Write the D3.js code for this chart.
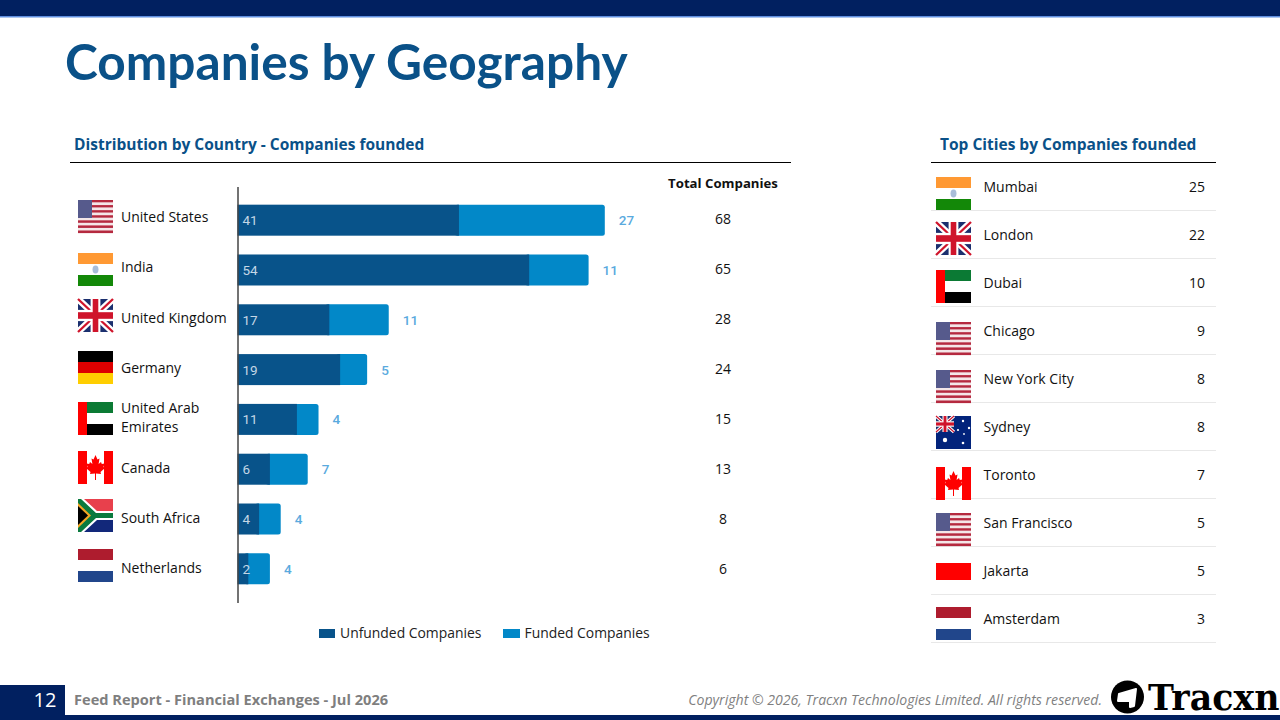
<!DOCTYPE html>
<html>
<head>
<meta charset="utf-8">
<script src="https://cdn.jsdelivr.net/npm/d3@7"></script>
<style>
html, body { margin: 0; padding: 0; background: #fff; }
svg { display: block; }
text { font-family: "Open Sans", sans-serif; }
</style>
</head>
<body>
<svg id="chart" width="1280" height="720"></svg>
<script>
const countries = ["United States", "India", "United Kingdom", "Germany", "United Arab Emirates", "Canada", "South Africa", "Netherlands"];
const countryFlags = ["us", "in", "gb", "de", "ae", "ca", "za", "nl"];
const unfunded = [41, 54, 17, 19, 11, 6, 4, 2];
const funded = [27, 11, 11, 5, 4, 7, 4, 4];
const totals = [68, 65, 28, 24, 15, 13, 8, 6];
const cities = ["Mumbai", "London", "Dubai", "Chicago", "New York City", "Sydney", "Toronto", "San Francisco", "Jakarta", "Amsterdam"];
const cityFlags = ["in", "gb", "ae", "us", "us", "au", "ca", "us", "id", "nl"];
const cityCounts = [25, 22, 10, 9, 8, 8, 7, 5, 5, 3];
const seriesNames = ["Unfunded Companies", "Funded Companies"];

const NAVY = "#012060", DARK = "#08538a", LIGHT = "#0288c8", TITLE = "#0a5188";
const svg = d3.select("#chart");

function txt(g, x, y, s, size, fill, opts) {
    opts = opts || {};
    return g.append("text").attr("x", x).attr("y", y).text(s)
        .attr("font-size", size).attr("fill", fill)
        .attr("font-weight", opts.weight || 400)
        .attr("font-style", opts.style || "normal")
        .attr("text-anchor", opts.anchor || "start")
        .style("font-family", opts.font || null);
}

// flags are drawn in a 35 x 33 box
function rect(g, x, y, w, h, fill) {
    g.append("rect").attr("x", x).attr("y", y).attr("width", w).attr("height", h).attr("fill", fill);
}
function poly(g, pts, fill) {
    g.append("polygon").attr("points", pts).attr("fill", fill);
}
function unionJack(g, w, h) {
    rect(g, 0, 0, w, h, "#1b2f6e");
    const diag = `M0,0L${w},${h}M${w},0L0,${h}`;
    g.append("path").attr("d", diag).attr("stroke", "#fff").attr("stroke-width", h * 0.2);
    g.append("path").attr("d", diag).attr("stroke", "#cf142b").attr("stroke-width", h * 0.07);
    rect(g, 0, h * 0.33, w, h * 0.34, "#fff");
    rect(g, w * 0.36, 0, w * 0.28, h, "#fff");
    rect(g, 0, h * 0.4, w, h * 0.2, "#cf142b");
    rect(g, w * 0.42, 0, w * 0.16, h, "#cf142b");
}
const LEAF = "M17.5,4 L19.5,8.5 L21.5,7.5 L20.6,13 L23,11 L23.8,13 L26.5,12.5 L25.5,16 L27,17 L22.5,21 L23,23 L18,22.4 L18,29 L17,29 L17,22.4 L12,23 L12.5,21 L8,17 L9.5,16 L8.5,12.5 L11.2,13 L12,11 L14.4,13 L13.5,7.5 L15.5,8.5 Z";
const flagDraw = {
    us(g) {
        d3.range(13).forEach(i => rect(g, 0, i * 33 / 13, 35, 33 / 13 + 0.1, i % 2 ? "#f4e6e8" : "#b5293f"));
        rect(g, 0, 0, 14, 18, "#565a8c");
    },
    in(g) {
        rect(g, 0, 0, 35, 11, "#ff9933");
        rect(g, 0, 22, 35, 11, "#138808");
        g.append("ellipse").attr("cx", 17.5).attr("cy", 16.5).attr("rx", 3).attr("ry", 4).attr("fill", "#a9bdd9");
    },
    gb(g) { unionJack(g, 35, 33); },
    de(g) {
        rect(g, 0, 0, 35, 11, "#000");
        rect(g, 0, 11, 35, 11, "#dd0000");
        rect(g, 0, 22, 35, 11, "#ffce00");
    },
    ae(g) {
        rect(g, 9, 0, 26, 11, "#0b7a34");
        rect(g, 9, 22, 26, 11, "#000");
        rect(g, 0, 0, 9, 33, "#ff0000");
    },
    ca(g) {
        rect(g, 0, 0, 9, 33, "#ff0000");
        rect(g, 26, 0, 9, 33, "#ff0000");
        g.append("path").attr("d", LEAF).attr("fill", "#ff0000");
    },
    za(g) {
        rect(g, 0, 0, 35, 12, "#e8404c");
        rect(g, 0, 21, 35, 12, "#12287a");
        poly(g, "0,0 6,0 19,12 35,12 35,21 19,21 6,33 0,33", "#fff");
        poly(g, "0,0 3,0 18,14 35,14 35,19 18,19 3,33 0,33", "#0a7a3e");
        poly(g, "0,4 13,16.5 0,29", "#f5a623");
        poly(g, "0,7 10,16.5 0,26", "#000");
    },
    nl(g) {
        rect(g, 0, 0, 35, 11, "#ae1c2e");
        rect(g, 0, 22, 35, 11, "#21468b");
    },
    au(g) {
        rect(g, 0, 0, 35, 33, "#02237b");
        unionJack(g, 18, 16);
        [[27, 5, 1.2], [33, 12, 1.2], [22, 14, 1.1], [28, 18, 0.9], [9, 24, 2.2], [27, 27, 1.3]].forEach(s =>
            g.append("circle").attr("cx", s[0]).attr("cy", s[1]).attr("r", s[2]).attr("fill", "#fff"));
    },
    id(g) {
        rect(g, 0, 0, 35, 17, "#ff0000");
    }
};
function drawFlag(code, x, y) {
    const g = svg.append("g").attr("transform", `translate(${x},${y})`);
    flagDraw[code](g);
}

// page frame
rect(svg, 0, 0, 1280, 16, NAVY);
rect(svg, 0, 16, 1280, 1.5, "#5f8fe0");
rect(svg, 0, 715, 1280, 5, NAVY);
rect(svg, 0, 685, 65, 35, NAVY);
txt(svg, 65, 80, "Companies by Geography", 49.6, TITLE, { weight: 700, font: "Lato" });

// left panel
txt(svg, 74, 150, "Distribution by Country - Companies founded", 15.5, TITLE, { weight: 700 });
svg.append("line").attr("x1", 70).attr("x2", 791).attr("y1", 162.5).attr("y2", 162.5).attr("stroke", "#000");
txt(svg, 723, 188, "Total Companies", 13.2, "#111", { weight: 700, anchor: "middle" });

const x = d3.scaleLinear().domain([0, 68]).range([237.5, 604.8]);
const y = d3.scaleBand().domain(countries).range([186.5, 602.5]).paddingInner(0.3775).paddingOuter(0.365);
const rowY = d3.scalePoint().domain(countries).range([217.4, 568]);
const flagTops = [200, 253, 299, 351, 402, 451, 499, 549];

const rows = countries.map((c, i) => ({ c, u: unfunded[i], f: funded[i], t: totals[i], flag: countryFlags[i], top: flagTops[i] }));

svg.append("g").selectAll("rect").data(rows).enter().append("rect")
    .attr("x", d => x(d.u) - 4)
    .attr("y", d => y(d.c))
    .attr("width", d => x(d.t) - x(d.u) + 4)
    .attr("height", y.bandwidth())
    .attr("rx", 2.5)
    .attr("fill", LIGHT);
svg.append("g").selectAll("rect").data(rows).enter().append("rect")
    .attr("x", x(0))
    .attr("y", d => y(d.c))
    .attr("width", d => x(d.u) - x(0))
    .attr("height", y.bandwidth())
    .attr("fill", DARK);

const yAxis = svg.append("g").attr("transform", `translate(${x(0)},0)`)
    .call(d3.axisLeft(y).tickSize(0).tickFormat(""));
yAxis.select(".domain").attr("stroke", "#444").attr("stroke-width", 1.5);

rows.forEach(d => {
    const my = y(d.c) + y.bandwidth() / 2 + 5;
    txt(svg, x(0) + 5, my, d.u, 13.5, "#c4d7e6", { font: "Roboto" });
    txt(svg, x(d.t) + 14, my, d.f, 13.5, "#5aaade", { font: "Roboto", weight: 500 });
    txt(svg, 723, rowY(d.c) + 6.2, d.t, 14, "#111", { anchor: "middle" });
    drawFlag(d.flag, 78, d.top);
    if (d.c === "United Arab Emirates") {
        txt(svg, 121, 413, "United Arab", 14, "#111");
        txt(svg, 121, 432, "Emirates", 14, "#111");
    } else {
        txt(svg, 121, rowY(d.c) + 5, d.c, 14, "#111");
    }
});

// legend
rect(svg, 319, 629, 16, 9, DARK);
txt(svg, 340, 638, seriesNames[0], 13.9, "#222");
rect(svg, 503, 629, 17, 9, LIGHT);
txt(svg, 524.5, 638, seriesNames[1], 13.9, "#222");

// right panel
txt(svg, 940, 150, "Top Cities by Companies founded", 15.5, TITLE, { weight: 700 });
svg.append("line").attr("x1", 931).attr("x2", 1216).attr("y1", 162.5).attr("y2", 162.5).attr("stroke", "#000");

const cityY = d3.scalePoint().domain(cities).range([188, 620]);
const cityFlagTops = [177, 222, 270, 322, 370, 416, 467, 513, 563, 607];
cities.forEach((c, i) => {
    const cy = cityY(c);
    svg.append("line").attr("x1", 931).attr("x2", 1216).attr("y1", cy + 22.5).attr("y2", cy + 22.5).attr("stroke", "#e8e8e8");
    drawFlag(cityFlags[i], 936, cityFlagTops[i]);
    txt(svg, 983.5, cy + 4.2, c, 14, "#111");
    txt(svg, 1205, cy + 4.2, cityCounts[i], 14, "#111", { anchor: "end" });
});

// footer
txt(svg, 45, 707, "12", 20, "#fff", { anchor: "middle" });
txt(svg, 74, 705, "Feed Report - Financial Exchanges - Jul 2026", 14.6, "#7f7f7f", { weight: 700 });
txt(svg, 1102, 705, "Copyright © 2026, Tracxn Technologies Limited. All rights reserved.", 14.1, "#7f7f7f", { style: "italic", anchor: "end" });
svg.append("circle").attr("cx", 1127.5).attr("cy", 697).attr("r", 16.5).attr("fill", "#000");
svg.append("polygon").attr("points", "1136,689 1119,694 1118,701 1130,701 1130,707 1134,706")
    .attr("fill", "#fff").attr("stroke", "#fff").attr("stroke-width", 2).attr("stroke-linejoin", "round");
txt(svg, 1148, 709.5, "Tracxn", 34.8, "#000", { weight: 700, font: "DejaVu Serif" });
</script>
</body>
</html>
